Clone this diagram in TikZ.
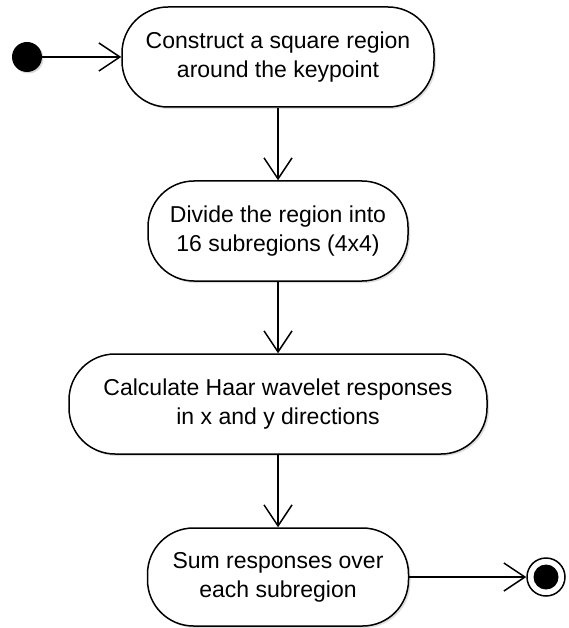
\documentclass[tikz,border=0pt]{standalone}
\usepackage{fontspec}
\setmainfont{Liberation Sans}
\usetikzlibrary{arrows.meta, shadows}

\begin{document}
\begin{tikzpicture}[x=1pt, y=-1pt, >={Straight Barb[length=21pt, width=28pt]},
  font=\fontsize{23}{29}\selectfont,
  act/.style={draw, line width=1.5pt, rounded corners=46pt, fill=white, align=center, minimum height=100pt,
    drop shadow={opacity=0.25, shadow xshift=2pt, shadow yshift=-2pt}},
  flow/.style={->, line width=1.5pt}]
\useasboundingbox (0,0) rectangle (568,628);
\node[circle, fill=black, minimum size=30pt, inner sep=0pt,
  drop shadow={opacity=0.3, shadow xshift=1.5pt, shadow yshift=-1.5pt}] (start) at (27,57) {};
\node[act, minimum width=312pt] (square) at (278,57)  {Construct a square region\\around the keypoint};
\node[act, minimum width=260pt] (divide) at (278,231) {Divide the region into\\16 subregions (4x4)};
\node[act, minimum width=418pt] (haar)   at (278,404) {Calculate Haar wavelet responses\\in x and y directions};
\node[act, minimum width=261pt, minimum height=98pt] (sum) at (278,577) {Sum responses over\\each subregion};
\node[circle, draw, line width=1.5pt, fill=white, minimum size=38pt, inner sep=0pt] (stop) at (546,577) {};
\node[circle, fill=black, minimum size=25pt, inner sep=0pt] (stopdot) at (stop) {};
\draw[flow] (start) -- (square);
\draw[flow] (square) -- (divide);
\draw[flow] (divide) -- (haar);
\draw[flow] (haar) -- (sum);
\draw[flow] (sum) -- (stop);
\end{tikzpicture}
\end{document}
